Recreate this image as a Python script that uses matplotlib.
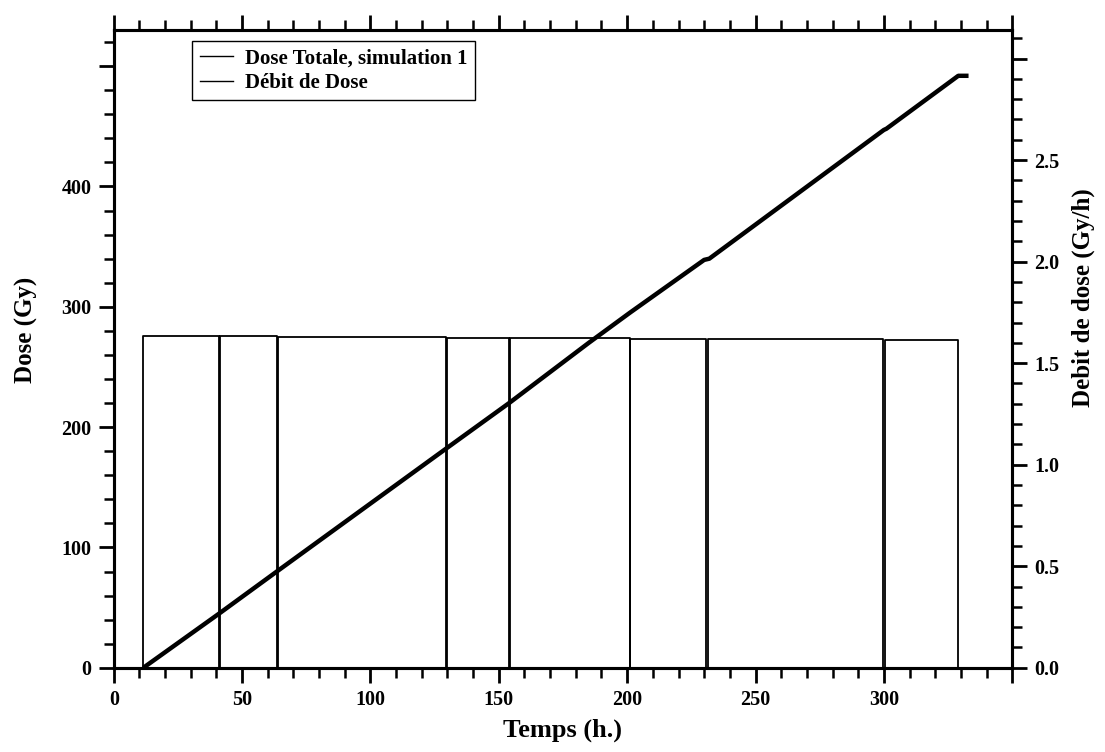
import matplotlib.pyplot as plt
from matplotlib.lines import Line2D
from matplotlib.ticker import MultipleLocator, FixedLocator, FuncFormatter

plt.rcParams['font.family'] = ['Liberation Serif', 'DejaVu Serif']
plt.rcParams['font.weight'] = 'bold'

# dose totale (h, Gy)
temps_dose = [11.5, 41, 63.5, 130, 154, 185, 201, 230, 232, 300, 301, 329, 333]
dose = [0, 45, 80, 183, 220, 270, 295, 339, 340, 447, 448, 492, 492]

# creneaux du debit de dose : debut, fin (h), debit (Gy/h)
debut = [11.5, 41.3, 63.8, 129.8, 154.4, 201.2, 231.4, 300.3]
fin = [41.0, 63.5, 129.5, 153.8, 201.0, 230.6, 299.8, 329.0]
debit = [1.635, 1.632, 1.628, 1.625, 1.622, 1.620, 1.617, 1.612]

x_major = [0, 50, 100, 150, 200, 250, 300, 350]
y_major = [0, 100, 200, 300, 400, 500]
y2_major = [0.0, 0.5, 1.0, 1.5, 2.0, 2.5, 3.0]

t_debit, v_debit = [], []
for d, f, v in zip(debut, fin, debit):
    t_debit += [d, d, f, f]
    v_debit += [0, v, v, 0]

fig = plt.figure(figsize=(11.05, 7.52), dpi=100)
ax = fig.add_axes([0.103, 0.112, 0.813, 0.848])
ax2 = ax.twinx()

ax.plot(temps_dose, dose, color='black', lw=3.2, solid_capstyle='butt', zorder=3)
ax2.plot(t_debit, v_debit, color='black', lw=1.3)

ax.set_xlim(0, 350)
ax.set_ylim(0, 530)
ax2.set_ylim(0, 3.14)

ax.xaxis.set_major_locator(FixedLocator(x_major))
ax.xaxis.set_minor_locator(MultipleLocator(10))
ax.xaxis.set_major_formatter(FuncFormatter(lambda v, p: '' if v >= 350 else '%d' % v))
ax.yaxis.set_major_locator(FixedLocator(y_major))
ax.yaxis.set_minor_locator(MultipleLocator(20))
ax.yaxis.set_major_formatter(FuncFormatter(lambda v, p: '' if v >= 500 else '%d' % v))
ax2.yaxis.set_major_locator(FixedLocator(y2_major))
ax2.yaxis.set_minor_locator(MultipleLocator(0.1))
ax2.yaxis.set_major_formatter(FuncFormatter(lambda v, p: '' if v >= 3.0 else '%.1f' % v))

ax.xaxis.set_ticks_position('both')
for a in (ax, ax2):
    a.tick_params(which='major', direction='out', length=11, width=2, labelsize=14.5, pad=5)
    a.tick_params(which='minor', direction='out', length=7, width=1.8)
    for s in a.spines.values():
        s.set_linewidth(2.2)

ax.set_xlabel('Temps (h.)', fontsize=19, fontweight='bold', labelpad=6)
ax.set_ylabel('Dose (Gy)', fontsize=18, fontweight='bold')
ax2.set_ylabel('Debit de dose (Gy/h)', fontsize=18, fontweight='bold')
ax.yaxis.set_label_coords(-0.084, 0.53)
ax2.yaxis.set_label_coords(1.066, 0.58)

handles = [Line2D([], [], color='black', lw=1),
           Line2D([], [], color='black', lw=1)]
leg = ax.legend(handles, ['Dose Totale, simulation 1', 'Débit de Dose'],
                loc='upper left', bbox_to_anchor=(0.174, 0.945),
                bbox_transform=fig.transFigure, borderaxespad=0,
                fontsize=15, fancybox=False, framealpha=1,
                handlelength=1.6, handletextpad=0.6, labelspacing=0.2,
                borderpad=0.35)
leg.get_frame().set_edgecolor('black')
leg.get_frame().set_linewidth(1)
leg.set_zorder(5)

fig.savefig('out.png', dpi=100)
